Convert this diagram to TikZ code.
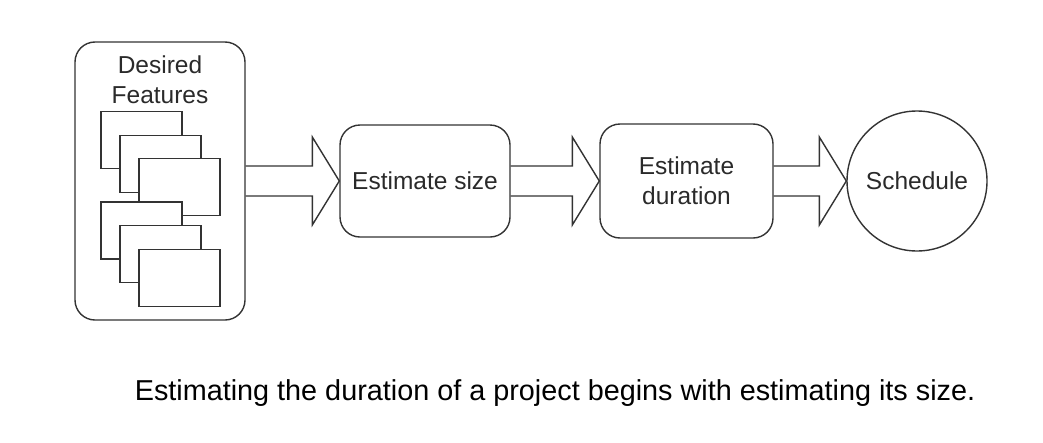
\documentclass[tikz,border=0pt]{standalone}
\usepackage{fontspec}
\setmainfont{Liberation Sans}
\usepackage{xcolor}
\usepackage{tikz}
\usetikzlibrary{positioning, calc}

\definecolor{edgegrey}{HTML}{333333}
\definecolor{textgrey}{HTML}{2A2A2A}

\begin{document}
\begin{tikzpicture}[x=1pt,y=-1pt]
	\tikzstyle{stage}=[draw=edgegrey,line width=1.4pt,rounded corners=20pt,align=center,text=textgrey,font=\fontsize{24.5}{30}\selectfont]
	\tikzstyle{page}=[draw=edgegrey,line width=1.4pt,fill=white,minimum width=81pt,minimum height=57pt]
	\tikzstyle{blk}=[draw=edgegrey,line width=1.4pt,line join=miter]
	\useasboundingbox (0,0) rectangle (1043,442);
	\node[stage,minimum width=170pt,minimum height=278pt](feat) at (160,181) {};
	\node[text=textgrey,align=center,font=\fontsize{24.5}{30}\selectfont](featlbl) at (160,80) {Desired\\Features};
	\foreach \i/\px/\py in {1/141.5/140,2/160.5/164,3/179.5/187,4/141.5/230.5,5/160.5/254,6/179.5/278}
		\node[page](p\i) at (\px,\py) {};
	\node[stage,minimum width=170pt,minimum height=112pt](size) at (425,181) {Estimate size};
	\node[stage,minimum width=173pt,minimum height=114pt](dur) at (686.5,181) {Estimate\\duration};
	\node[circle,draw=edgegrey,line width=1.4pt,minimum size=140pt,text=textgrey,font=\fontsize{24.5}{30}\selectfont](sched) at (917,181) {Schedule};
	% block arrows between the stages
	\foreach \a/\b in {feat/size,size/dur,dur/sched}
		\draw[blk] let \p1=(\a.east), \p2=(\b.west) in
			(\x1,\y2+15) -- (\x2-27,\y2+15) -- (\x2-27,\y2+44) -- (\p2)
			-- (\x2-27,\y2-44) -- (\x2-27,\y2-15) -- (\x1,\y2-15);
	\node[font=\fontsize{28.8}{34}\selectfont](caption) at (555,393) {Estimating the duration of a project begins with estimating its size.};
\end{tikzpicture}
\end{document}
